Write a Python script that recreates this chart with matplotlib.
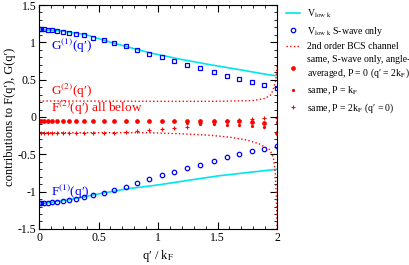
import matplotlib
matplotlib.use('Agg')
import matplotlib.pyplot as plt
from matplotlib.ticker import MultipleLocator, FuncFormatter
from matplotlib.lines import Line2D

plt.rcParams['font.family'] = ['Liberation Serif', 'DejaVu Serif']
plt.rcParams['mathtext.fontset'] = 'stix'
plt.rcParams['axes.unicode_minus'] = False

# momentum grid of the S-wave / BCS points (q'/kF)
q_pts = [0.003, 0.02, 0.045, 0.073, 0.107, 0.149, 0.199, 0.255, 0.311, 0.381, 0.456,
         0.544, 0.633, 0.728, 0.826, 0.927, 1.031, 1.137, 1.246, 1.355, 1.468, 1.577,
         1.683, 1.79, 1.893, 2.0]

# V_low k, S-wave only
G1_swave = [1.175, 1.175, 1.173, 1.170, 1.166, 1.158, 1.145, 1.128, 1.112, 1.094, 1.065,
            1.027, 0.991, 0.947, 0.901, 0.848, 0.800, 0.750, 0.701, 0.653, 0.603, 0.554,
            0.509, 0.469, 0.429, 0.393]
F1_swave = [-1.158, -1.156, -1.154, -1.150, -1.145, -1.138, -1.128, -1.115, -1.098, -1.075,
            -1.049, -1.018, -0.978, -0.933, -0.884, -0.834, -0.781, -0.732, -0.687, -0.639,
            -0.585, -0.540, -0.500, -0.459, -0.424, -0.384]

# full V_low k
q_line = [0.0, 0.2, 0.4, 0.625, 0.93, 1.2, 1.44, 1.7, 1.94, 2.0]
G1_full = [1.175, 1.15, 1.10, 0.99, 0.86, 0.77, 0.70, 0.63, 0.563, 0.553]
q_fline = [0.0, 0.25, 0.5, 0.75, 1.0, 1.25, 1.5, 1.75, 2.0]
F1_full = [-1.165, -1.11, -1.03, -0.96, -0.91, -0.85, -0.79, -0.745, -0.70]

# 2nd order BCS channel
q_g2 = [0.0, 0.5, 1.0, 1.5, 1.8, 1.9, 1.95, 1.97, 1.99, 2.0]
G2_bcs = [0.215, 0.213, 0.21, 0.21, 0.22, 0.25, 0.30, 0.38, 0.50, 0.68]
q_f2 = [0.0, 0.5, 0.9, 1.2, 1.44, 1.6, 1.75, 1.85, 1.94, 1.97, 1.985, 1.995, 2.0]
F2_bcs = [-0.21, -0.21, -0.21, -0.225, -0.245, -0.27, -0.31, -0.36, -0.44, -0.55, -0.75,
          -1.1, -1.5]

# S-wave only, angle-averaged
F2_P0 = [-0.06] * 23 + [-0.07, -0.085, -0.22]
F2_PkF = [-0.06] * 18 + [-0.08, -0.10, -0.10, -0.11, -0.11, -0.12, -0.13, -0.07]
F2_P2kF = [-0.22] * 12 + [-0.21, -0.20, -0.19, -0.175, -0.165, -0.15, -0.13, -0.08, -0.07,
                          -0.05, -0.04, -0.027, -0.009, -0.01]

fig = plt.figure(figsize=(4.09, 2.65), dpi=100)
ax = fig.add_axes([0.0954, 0.136, 0.582, 0.845])

ax.plot(q_line, G1_full, color='#00e5ee', lw=1.2)
ax.plot(q_fline, F1_full, color='#00e5ee', lw=1.2)
ax.plot(q_pts, G1_swave, 's', mfc='none', mec='#0000ff', ms=2.8, mew=0.9)
ax.plot(q_pts, F1_swave, 'o', mfc='none', mec='#0000ff', ms=3.2, mew=0.9)
ax.plot(q_g2, G2_bcs, ':', color='red', lw=1.0)
ax.plot(q_f2, F2_bcs, ':', color='red', lw=1.0)
ax.plot(q_pts, F2_P0, 'o', color='red', ms=3.4, mew=0)
ax.plot(q_pts, F2_PkF, 'o', color='red', ms=2.3, mew=0)
ax.plot(q_pts, F2_P2kF, '+', color='red', ms=3.2, mew=0.8)

ax.text(0.1, 0.9, r'G$^{(1)}$(q′)', color='#0000ff', fontsize=9.5)
ax.text(0.1, 0.3, r'G$^{(2)}$(q′)', color='red', fontsize=9.5)
ax.text(0.1, 0.07, r'F$^{(2)}$(q′) all below', color='red', fontsize=9.5)
ax.text(0.1, -1.06, r'F$^{(1)}$(q′)', color='#0000ff', fontsize=9.5)

ax.set_xlim(0, 2)
ax.set_ylim(-1.5, 1.5)
ax.xaxis.set_major_locator(MultipleLocator(0.5))
ax.xaxis.set_minor_locator(MultipleLocator(0.1))
ax.yaxis.set_major_locator(MultipleLocator(0.5))
ax.yaxis.set_minor_locator(MultipleLocator(0.1))
ax.xaxis.set_major_formatter(FuncFormatter(lambda v, p: '%g' % v))
ax.yaxis.set_major_formatter(FuncFormatter(lambda v, p: '%g' % v))
ax.tick_params(which='both', direction='in', top=True, right=True, labelsize=8.5, pad=2)
ax.tick_params(which='major', length=5)
ax.tick_params(which='minor', length=2.5)
ax.set_xlabel('q′ / k$_{\\rm F}$', fontsize=9, labelpad=3)
ax.set_ylabel('contributions to F(q′), G(q′)', fontsize=9, labelpad=1)

handles = [
    Line2D([], [], color='#00e5ee', lw=1.2),
    Line2D([], [], ls='none', marker='o', mfc='none', mec='#0000ff', ms=3.2, mew=0.9),
    Line2D([], [], ls=':', color='red', lw=1.0),
    Line2D([], [], ls='none', marker='o', color='red', ms=3.4, mew=0),
    Line2D([], [], ls='none', marker='o', color='red', ms=2.3, mew=0),
    Line2D([], [], ls='none', marker='+', color='red', ms=3.2, mew=0.8),
]
labels = [
    r'V$_{\rm low\ k}$',
    r'V$_{\rm low\ k}$ S-wave only',
    '2nd order BCS channel',
    'same, S-wave only, angle-\naveraged, P = 0 (q′ = 2k$_{\\rm F}$)',
    'same, P = k$_{\\rm F}$',
    'same, P = 2k$_{\\rm F}$ (q′ = 0)',
]
fig.legend(handles, labels, loc='upper left', bbox_to_anchor=(0.69, 0.985),
           frameon=False, fontsize=7, handlelength=1.4, handletextpad=0.7,
           labelspacing=0.45, borderaxespad=0)

fig.savefig('out.png', dpi=100)
